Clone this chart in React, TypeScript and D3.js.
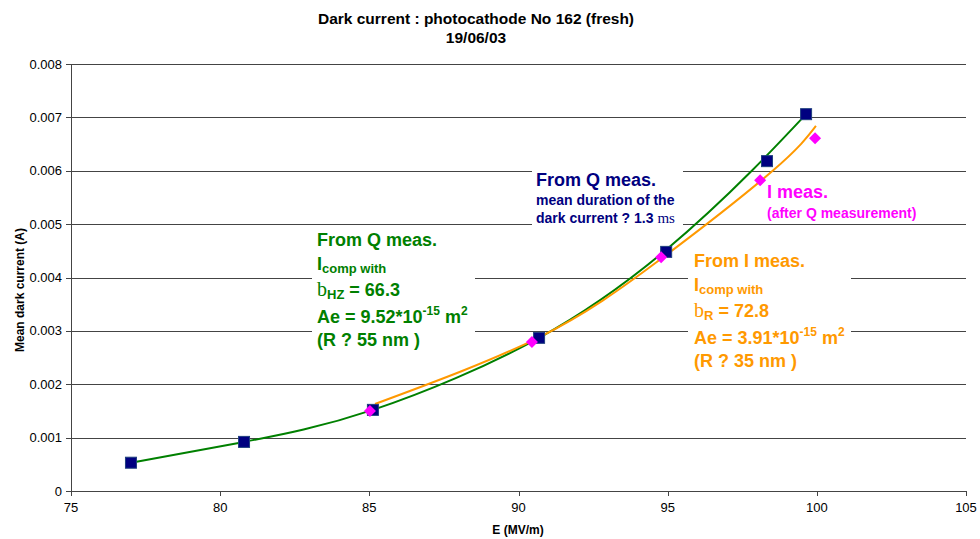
import React from 'react';
import * as d3 from 'd3';

// Q measurement (squares)
const qField = [77.01, 80.8, 85.12, 90.69, 94.95, 98.33, 99.64];
const qCurrent = [0.00053, 0.00092, 0.00152, 0.00287, 0.00448, 0.00618, 0.00706];

// I measurement (diamonds)
const iField = [85.02, 90.45, 94.78, 98.1, 99.94];
const iCurrent = [0.0015, 0.00279, 0.00438, 0.00582, 0.00661];

// fit from Q measurement (green)
const qFitField = [77.01, 80.8, 85.12, 90.69, 94.95, 97.82, 99.64];
const qFitCurrent = [0.00053, 0.00092, 0.00152, 0.00287, 0.00452, 0.006, 0.00706];

// fit from I measurement (orange)
const iFitField = [85.19, 90.69, 94.78, 98.52, 99.97];
const iFitCurrent = [0.00163, 0.00288, 0.00435, 0.006, 0.00684];

const xTicks = [75, 80, 85, 90, 95, 100, 105];
const yTicks = [0, 0.001, 0.002, 0.003, 0.004, 0.005, 0.006, 0.007, 0.008];

const FONT = '"Liberation Sans", Arial, sans-serif';
const SERIF = '"Liberation Serif", "Times New Roman", serif';

const GREEN = '#008000';
const ORANGE = '#ff9900';
const NAVY = '#000080';
const MAGENTA = '#ff00ff';

export default function App() {
  const width = 980;
  const height = 539;
  const x = d3.scaleLinear().domain([75, 105]).range([71, 966]);
  const y = d3.scaleLinear().domain([0, 0.008]).range([491, 64]);

  const line = d3
    .line<[number, number]>()
    .x(d => x(d[0]))
    .y(d => y(d[1]))
    .curve(d3.curveNatural);

  const qFit = qFitField.map((f, i) => [f, qFitCurrent[i]] as [number, number]);
  const iFit = iFitField.map((f, i) => [f, iFitCurrent[i]] as [number, number]);

  const sq = 11;
  const dm = 6;

  return (
    <svg
      width={width}
      height={height}
      style={{ position: 'absolute', left: 0, top: 0, background: '#fff' }}
      fontFamily={FONT}
    >
      <rect width={width} height={height} fill="#fff" />

      {/* title */}
      <text x={476} y={24} textAnchor="middle" fontSize={15.5} fontWeight="bold">
        Dark current : photocathode No 162 (fresh)
      </text>
      <text x={476} y={43} textAnchor="middle" fontSize={15.5} fontWeight="bold">
        19/06/03
      </text>

      {/* grid */}
      {yTicks.map(t => (
        <line
          key={'g' + t}
          x1={x(75)}
          x2={x(105)}
          y1={Math.round(y(t)) + 0.5}
          y2={Math.round(y(t)) + 0.5}
          stroke="#444"
          strokeWidth={1}
        />
      ))}

      {/* axes */}
      <line x1={x(75) + 0.5} x2={x(75) + 0.5} y1={y(0.008)} y2={y(0)} stroke="#444" />
      {yTicks.map(t => (
        <g key={'y' + t}>
          <line
            x1={x(75) - 5}
            x2={x(75)}
            y1={Math.round(y(t)) + 0.5}
            y2={Math.round(y(t)) + 0.5}
            stroke="#444"
          />
          <text x={x(75) - 9} y={y(t) + 4.5} textAnchor="end" fontSize={13}>
            {t === 0 ? '0' : t.toFixed(3)}
          </text>
        </g>
      ))}
      {xTicks.map(t => (
        <g key={'x' + t}>
          <line
            x1={Math.round(x(t)) + 0.5}
            x2={Math.round(x(t)) + 0.5}
            y1={y(0)}
            y2={y(0) + 5}
            stroke="#444"
          />
          <text x={x(t)} y={512} textAnchor="middle" fontSize={13}>
            {t}
          </text>
        </g>
      ))}

      <text x={518} y={534} textAnchor="middle" fontSize={12} fontWeight="bold">
        E (MV/m)
      </text>
      <text
        transform="translate(24,290) rotate(-90)"
        textAnchor="middle"
        fontSize={12}
        fontWeight="bold"
      >
        Mean dark current (A)
      </text>

      {/* annotation boxes */}
      <rect x={312} y={226} width={163} height={130} fill="#fff" />
      <rect x={532} y={164} width={151} height={66} fill="#fff" />
      <rect x={688} y={246} width={163} height={130} fill="#fff" />

      {/* fits */}
      <path d={line(qFit) || ''} fill="none" stroke={GREEN} strokeWidth={2} />
      <path d={line(iFit) || ''} fill="none" stroke={ORANGE} strokeWidth={2} />

      {/* Q squares */}
      {qField.map((f, i) => (
        <rect
          key={'q' + i}
          x={x(f) - sq / 2}
          y={y(qCurrent[i]) - sq / 2}
          width={sq}
          height={sq}
          fill={NAVY}
          stroke="#1f3f7f"
          strokeWidth={1}
        />
      ))}

      {/* I diamonds */}
      {iField.map((f, i) => {
        const cx = x(f);
        const cy = y(iCurrent[i]);
        return (
          <path
            key={'i' + i}
            d={`M${cx},${cy - dm}L${cx + dm},${cy}L${cx},${cy + dm}L${cx - dm},${cy}Z`}
            fill={MAGENTA}
          />
        );
      })}

      {/* green annotation */}
      <g fill={GREEN} fontWeight="bold" fontSize={18}>
        <text x={317} y={246}>From Q meas.</text>
        <text x={317} y={270}>
          I<tspan fontSize={13} dy={3}>comp with</tspan>
        </text>
        <text x={317} y={296}>
          <tspan fontFamily={SERIF} fontWeight="normal" fontSize={20}>b</tspan>
          <tspan fontSize={13} dy={3}>HZ</tspan>
          <tspan dy={-3}> = 66.3</tspan>
        </text>
        <text x={317} y={323}>
          Ae = 9.52*10<tspan fontSize={12} dy={-8}>-15</tspan>
          <tspan dy={8}> m</tspan>
          <tspan fontSize={12} dy={-8}>2</tspan>
        </text>
        <text x={317} y={346}>(R ? 55 nm )</text>
      </g>

      {/* navy annotation */}
      <g fill={NAVY} fontWeight="bold">
        <text x={536} y={186} fontSize={18}>From Q meas.</text>
        <text x={536} y={205} fontSize={14}>mean duration of the</text>
        <text x={536} y={223} fontSize={14}>
          dark current ? 1.3 <tspan fontFamily={SERIF} fontWeight="normal" fontSize={15}>ms</tspan>
        </text>
      </g>

      {/* magenta annotation */}
      <g fill={MAGENTA} fontWeight="bold">
        <text x={767} y={198} fontSize={18}>I meas.</text>
        <text x={767} y={218} fontSize={14}>(after Q measurement)</text>
      </g>

      {/* orange annotation */}
      <g fill={ORANGE} fontWeight="bold" fontSize={18}>
        <text x={694} y={267}>From I meas.</text>
        <text x={694} y={291}>
          I<tspan fontSize={13} dy={3}>comp with</tspan>
        </text>
        <text x={694} y={317}>
          <tspan fontFamily={SERIF} fontWeight="normal" fontSize={20}>b</tspan>
          <tspan fontSize={13} dy={3}>R</tspan>
          <tspan dy={-3}> = 72.8</tspan>
        </text>
        <text x={694} y={344}>
          Ae = 3.91*10<tspan fontSize={12} dy={-8}>-15</tspan>
          <tspan dy={8}> m</tspan>
          <tspan fontSize={12} dy={-8}>2</tspan>
        </text>
        <text x={694} y={367}>(R ? 35 nm )</text>
      </g>
    </svg>
  );
}
